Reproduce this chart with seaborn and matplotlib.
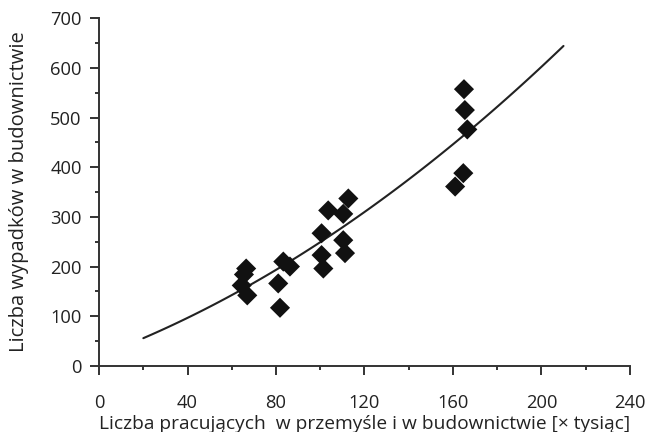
import numpy as np
import pandas as pd
import seaborn as sns
import matplotlib.pyplot as plt
from matplotlib.ticker import MultipleLocator

# points
workers = [66.5, 65.5, 64.5, 67.0, 81.0, 81.8, 83.3, 86.3, 100.6, 100.6, 101.4,
           103.6, 112.7, 110.4, 110.4, 111.2, 165.0, 165.4, 166.5, 164.7, 161.0]
accidents = [196, 184, 162, 142, 166, 117, 210, 200, 267, 223, 196,
             313, 337, 306, 253, 227, 557, 515, 476, 388, 361]

# fitted curve, read at a few x positions
curve_x = [20, 40, 60, 80, 100, 120, 140, 160, 180, 200, 210]
curve_y = [56, 97, 142, 193, 249, 310, 376, 446, 521, 602, 644]

df = pd.DataFrame({"x": workers, "y": accidents})
curve = pd.DataFrame({"x": curve_x, "y": curve_y})

sns.set_style("ticks")
plt.rcParams["font.family"] = ["Open Sans", "DejaVu Sans"]

fig = plt.figure(figsize=(6.52, 4.32), dpi=100)
ax = fig.add_axes([0.152, 0.153, 0.814, 0.805])

sns.regplot(data=curve, x="x", y="y", order=2, ci=None, scatter=False,
            line_kws={"color": "#222222", "lw": 1.5}, ax=ax)
sns.scatterplot(data=df, x="x", y="y", marker="D", s=105, color="#111111",
                edgecolor="none", ax=ax, zorder=3)

ax.set_xlim(0, 240)
ax.set_ylim(0, 700)
ax.xaxis.set_major_locator(MultipleLocator(40))
ax.xaxis.set_minor_locator(MultipleLocator(20))
ax.yaxis.set_major_locator(MultipleLocator(100))
ax.yaxis.set_minor_locator(MultipleLocator(50))
sns.despine(ax=ax)
for s in ["left", "bottom"]:
    ax.spines[s].set_color("#333333")
    ax.spines[s].set_linewidth(1.4)
ax.tick_params(which="major", length=6.5, width=1.4, color="#333333",
               labelsize=13.2, labelcolor="#222222")
ax.tick_params(which="minor", length=3, width=1.4, color="#333333")
ax.tick_params(axis="x", which="major", pad=14)
ax.tick_params(axis="y", which="major", pad=6)

ax.set_xlabel("Liczba pracujących  w przemyśle i w budownictwie [× tysiąc]",
              fontsize=13.8, color="#222222", labelpad=2)
ax.set_ylabel("Liczba wypadków w budownictwie", fontsize=14.5, color="#222222",
              labelpad=15)

fig.savefig("out.png", dpi=100)
